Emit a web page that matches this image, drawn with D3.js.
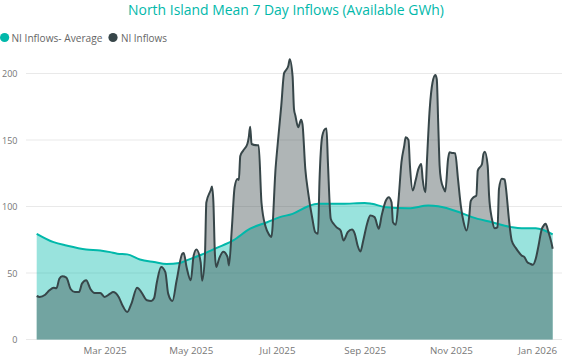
<!DOCTYPE html>
<html>
<head>
<meta charset="utf-8">
<script src="https://cdn.jsdelivr.net/npm/d3@7"></script>
<style>
  html, body { margin: 0; padding: 0; background: #fff; }
  svg { display: block; font-family: "Open Sans", "Segoe UI", sans-serif; }
</style>
</head>
<body>
<svg id="chart" width="562" height="356"></svg>
<script>
// ---- Data ----
const startDate = "2025-01-12";
const endDate = "2026-01-12";

// NI Inflows: day offsets from startDate and values (GWh)
const inflowDays = [0,2,6,9,12,14,16,18,21,24,27,30,32,35,38,41,45,48,52,54,58,61,64,67,71,74,78,81,83,85,88,91,93,96,99,103,104,106,109,111,113,116,117,119,120,123,124,125,126,127,129,132,135,136,138,140,142,143,144,146,149,150,151,152,156,157,159,162,164,166,169,171,173,175,176,178,179,181,182,183,185,187,188,190,192,195,197,199,200,202,204,205,206,208,210,212,215,217,220,223,225,227,229,231,234,236,239,242,244,247,249,251,252,254,256,258,260,261,263,264,266,268,270,272,273,275,276,278,280,282,283,284,285,286,288,289,291,292,294,296,298,300,302,304,306,307,309,311,312,315,316,317,319,320,322,324,326,327,329,331,332,334,336,339,341,343,345,347,349,351,353,355,357,359,360,362,364,365];
const inflowValues = [32.7,32,33.7,37,39,38.5,45.7,47.5,46.5,38,35.7,35.7,42,44.5,38,35,35,32,34.5,35.7,32,25,20.7,27,39,35.7,29.5,29,31,43,54.5,50.7,34.5,29,44.5,64.5,65,54.5,44.5,63,67.7,58,44.2,63,103,112,115,103,65.7,54.5,60.7,66,62,55.7,83,114.5,120.7,120,138,142,147,152,160,147,146,146,103,84.5,79.5,77,129,153,175.8,200.3,202,205.8,210.8,198,173.3,168.3,159.5,165.3,162,128.3,110.7,90.8,80.7,79.5,118,153,158.3,158.7,133,90.8,87,84.5,82,74.5,80.7,82.7,79.5,70.7,66.2,74.5,88.2,93.2,92,83.3,93.2,104.5,107,103.2,88.2,86.3,105.8,133.2,145.8,152,150,131,112,119.5,128.3,132,120.8,110.7,133.2,173.3,193.2,198.8,195.8,163.2,130.8,120,113.3,111.2,135.8,140.7,140.3,140,120.8,100.7,88.2,82,93,104,107,108.2,127,132,139.5,141.2,130.8,108.2,90.8,83.7,84.5,113.3,120.8,120.3,113.3,90.8,74.5,68.7,65.7,63.2,62,58.2,57,56.2,60.7,70.7,82,86.3,87,80.7,73.2,68.2];

// NI Inflows - Average
const avgDays = [0,12,21,35,45,52,57,64,73,83,92,101,106,116,127,139,151,163,172,181,192,199,216,232,237,247,263,277,284,299,308,322,336,343,353,365];
const avgValues = [79.5,73.2,70.7,67.7,67,65.7,64.5,64,60.2,58.2,56.7,57.5,59.5,63.5,68.7,74.5,83.3,88.2,92,94.5,100.2,102,102,102.7,102,99.5,98.7,100.7,100.2,95.7,92,88.2,84.5,83.7,83.7,79];

const yTicks = [0, 50, 100, 150, 200];
const xTickDates = ["2025-03-01","2025-05-01","2025-07-01","2025-09-01","2025-11-01","2026-01-01"];

const titleText = "North Island Mean 7 Day Inflows (Available GWh)";
const seriesNames = ["NI Inflows- Average", "NI Inflows"];
const colors = { avg: "#01B8AA", inflow: "#374649" };

// ---- Setup ----
const parse = d3.utcParse("%Y-%m-%d");
const t0 = parse(startDate);
const inflow = inflowDays.map((d, i) => ({ date: d3.utcDay.offset(t0, d), v: inflowValues[i] }));
const avg = avgDays.map((d, i) => ({ date: d3.utcDay.offset(t0, d), v: avgValues[i] }));

const svg = d3.select("#chart");
const x = d3.scaleUtc().domain([t0, parse(endDate)]).range([36.7, 552.7]);
const y = d3.scaleLinear().domain([0, 200]).range([339.5, 73.5]);

function fitText(sel, targetWidth) {
  const node = sel.node();
  const fs = parseFloat(sel.attr("font-size"));
  const w = node.getComputedTextLength();
  if (w > 0) sel.attr("font-size", (fs * targetWidth / w).toFixed(2));
  return parseFloat(sel.attr("font-size"));
}

// Gridlines
svg.append("g").selectAll("line").data(yTicks).join("line")
  .attr("x1", 26).attr("x2", 562)
  .attr("y1", d => y(d)).attr("y2", d => y(d))
  .attr("stroke", "#e9e9e9").attr("stroke-width", 1);

// Y axis labels
const yAxis = d3.axisLeft(y).tickValues(yTicks).tickSize(0).tickPadding(0);
const gy = svg.append("g").attr("transform", "translate(17.5,0)").call(yAxis);
gy.select(".domain").remove();
gy.selectAll("text").attr("fill", "#777").attr("font-size", 10)
  .attr("font-family", "'Open Sans', sans-serif").attr("dy", "0.35em");
{
  const top = gy.selectAll("text").filter(d => d === 200);
  const fs = fitText(top, 15.5);
  gy.selectAll("text").attr("font-size", fs);
}

// X axis labels
const xAxis = d3.axisBottom(x).tickValues(xTickDates.map(parse)).tickFormat(d3.utcFormat("%b %Y")).tickSize(0).tickPadding(0);
const gx = svg.append("g").call(xAxis);
gx.select(".domain").remove();
gx.selectAll("text").attr("fill", "#777").attr("font-size", 10.5)
  .attr("font-family", "'Open Sans', sans-serif").attr("y", 354).attr("dy", 0);
{
  const first = gx.select("text");
  const fs = fitText(first, 43);
  gx.selectAll("text").attr("font-size", fs);
}

// Areas
const area = d3.area().x(d => x(d.date)).y0(y(0)).y1(d => y(d.v)).curve(d3.curveMonotoneX);
const line = d3.line().x(d => x(d.date)).y(d => y(d.v)).curve(d3.curveMonotoneX);

svg.append("path").datum(avg).attr("d", area).attr("fill", colors.avg).attr("fill-opacity", 0.4);
svg.append("path").datum(inflow).attr("d", area).attr("fill", colors.inflow).attr("fill-opacity", 0.4);
svg.append("path").datum(avg).attr("d", line).attr("fill", "none").attr("stroke", colors.avg).attr("stroke-width", 2);
svg.append("path").datum(inflow).attr("d", line).attr("fill", "none").attr("stroke", colors.inflow).attr("stroke-width", 2);

// Title
const title = svg.append("text").attr("x", 286).attr("y", 14.5).attr("text-anchor", "middle")
  .attr("fill", colors.avg).attr("font-size", 15).text(titleText);
fitText(title, 316);

// Legend
const legend = [
  { name: seriesNames[0], color: colors.avg, cx: 4.6, tx: 11.5, w: 91 },
  { name: seriesNames[1], color: colors.inflow, cx: 113, tx: 121, w: 46 }
];
legend.forEach(l => {
  svg.append("circle").attr("cx", l.cx).attr("cy", 37.5).attr("r", 4.6).attr("fill", l.color);
  const t = svg.append("text").attr("x", l.tx).attr("y", 41.5).attr("fill", "#666").attr("font-size", 11).text(l.name);
  fitText(t, l.w);
});
</script>
</body>
</html>
